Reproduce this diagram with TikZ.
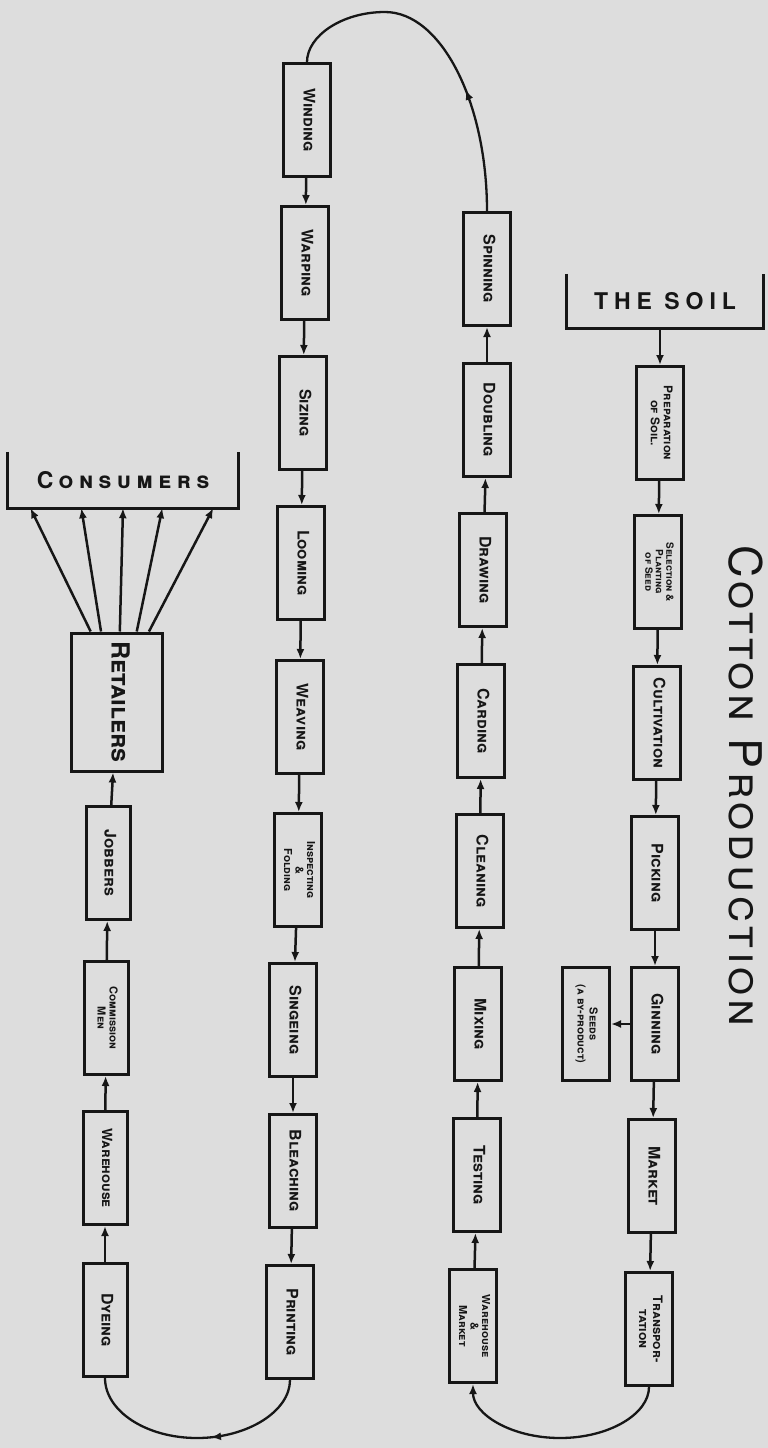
\documentclass[tikz,border=0pt]{standalone}
\usepackage{fontspec}
\usepackage{graphicx}
\setmainfont{TeX Gyre Heros}
\usetikzlibrary{calc,arrows.meta,positioning,decorations.markings}
\definecolor{paperGrey}{RGB}{221,221,221}
\definecolor{inkBlack}{RGB}{22,22,22}
\newcommand{\vlabel}[3]{\rotatebox{-90}{\fontsize{#1}{#2}\selectfont\begin{tabular}{@{}c@{}}#3\end{tabular}}}

\begin{document}
\begin{tikzpicture}[x=1pt,y=-1pt,
  stage/.style={draw=inkBlack,line width=3pt,fill=paperGrey,inner sep=0pt,minimum width=47pt,minimum height=113pt,font=\bfseries\scshape,text=inkBlack},
  flow/.style={draw=inkBlack,line width=2.5pt,-{Latex[length=10pt,width=8pt]}},
  loopline/.style={draw=inkBlack,line width=2.3pt},
  bracket/.style={inner sep=0pt,text=inkBlack,font=\bfseries},
  midarrow/.style={postaction={decorate},decoration={markings,mark=at position #1 with {\arrow{Latex[length=10pt,width=8pt]}}}}]
\fill[paperGrey] (0,0) rectangle (768,1448);
\useasboundingbox (0,0) rectangle (768,1448);

% title
\node[text=inkBlack] (title) at (746,786) {\rotatebox{-90}{\fontsize{45}{48}\selectfont\scshape\addfontfeatures{LetterSpace=9}Cotton Production}};

% growing the cotton
\node[bracket,minimum width=197pt,minimum height=54pt] (soil) at (665,301) {\fontsize{23}{25}\selectfont\addfontfeatures{LetterSpace=26}THE SOIL};
\draw[loopline,line width=3pt] (soil.north west) -- (soil.south west) -- (soil.south east) -- (soil.north east);
\node[stage] (prep) at (660,423) {\vlabel{12}{13}{Preparation\\of Soil.}};
\node[stage] (sel) at (658,572) {\vlabel{10}{10.5}{Selection \&\\Planting\\of Seed}};
\node[stage] (cult) at (657,723) {\vlabel{16}{17}{Cultivation}};
\node[stage] (pick) at (655,873) {\vlabel{16}{17}{Picking}};
\node[stage] (gin) at (655,1024) {\vlabel{16}{17}{Ginning}};
\node[stage] (mkt) at (652,1176) {\vlabel{16}{17}{Market}};
\node[stage] (trans) at (649,1329) {\vlabel{13}{14}{Transpor-\\tation}};
\node[stage] (seeds) at (586,1024) {\vlabel{11}{12}{Seeds\\(a by-product)}};

% spinning the yarn
\node[stage] (spin) at (487,269) {\vlabel{16}{17}{Spinning}};
\node[stage] (doub) at (487,420) {\vlabel{16}{17}{Doubling}};
\node[stage] (drw) at (483,570) {\vlabel{16}{17}{Drawing}};
\node[stage] (card) at (481,721) {\vlabel{16}{17}{Carding}};
\node[stage] (clean) at (480,871) {\vlabel{16}{17}{Cleaning}};
\node[stage] (mix) at (478,1024) {\vlabel{16}{17}{Mixing}};
\node[stage] (test) at (477,1175) {\vlabel{16}{17}{Testing}};
\node[stage] (wm) at (473,1326) {\vlabel{11}{11.5}{Warehouse\\\&\\Market}};

% making the cloth
\node[stage] (wind) at (307,120) {\vlabel{16}{17}{Winding}};
\node[stage] (warp) at (305,263) {\vlabel{16}{17}{Warping}};
\node[stage] (size) at (303,413) {\vlabel{16}{17}{Sizing}};
\node[stage] (loom) at (301,563) {\vlabel{16}{17}{Looming}};
\node[stage] (weave) at (300,717) {\vlabel{16}{17}{Weaving}};
\node[stage] (insp) at (298,870) {\vlabel{11}{11.5}{Inspecting\\\&\\Folding}};
\node[stage] (sing) at (293,1020) {\vlabel{16}{17}{Singeing}};
\node[stage] (bleach) at (293,1171) {\vlabel{16}{17}{Bleaching}};
\node[stage] (print) at (290,1322) {\vlabel{16}{17}{Printing}};

% selling
\node[stage,minimum width=44pt] (dye) at (105,1320) {\vlabel{16}{17}{Dyeing}};
\node[stage,minimum width=44pt] (ware) at (105,1168) {\vlabel{14}{15}{Warehouse}};
\node[stage,minimum width=44pt] (comm) at (106,1018) {\vlabel{11}{12}{Commission\\Men}};
\node[stage,minimum width=44pt] (job) at (108,863) {\vlabel{16}{17}{Jobbers}};
\node[stage,minimum width=91pt,minimum height=138pt] (ret) at (117,702) {\vlabel{25}{27}{Retailers}};
\node[bracket,minimum width=231pt,minimum height=56pt] (cons) at (123,480) {\fontsize{23}{25}\selectfont\scshape\addfontfeatures{LetterSpace=24}Consumers};
\draw[loopline,line width=3pt] (cons.north west) -- (cons.south west) -- (cons.south east) -- (cons.north east);

% arrows down the columns
\draw[flow] (prep |- soil.south) -- (prep);
\draw[flow] (prep) -- (sel);
\draw[flow] (sel) -- (cult);
\draw[flow] (cult) -- (pick);
\draw[flow] (pick) -- (gin);
\draw[flow] (gin) -- (mkt);
\draw[flow] (mkt) -- (trans);
\draw[flow] (gin) -- (seeds);
\draw[flow] (wm) -- (test);
\draw[flow] (test) -- (mix);
\draw[flow] (mix) -- (clean);
\draw[flow] (clean) -- (card);
\draw[flow] (card) -- (drw);
\draw[flow] (drw) -- (doub);
\draw[flow] (doub) -- (spin);
\draw[flow] (wind) -- (warp);
\draw[flow] (warp) -- (size);
\draw[flow] (size) -- (loom);
\draw[flow] (loom) -- (weave);
\draw[flow] (weave) -- (insp);
\draw[flow] (insp) -- (sing);
\draw[flow] (sing) -- (bleach);
\draw[flow] (bleach) -- (print);
\draw[flow] (dye) -- (ware);
\draw[flow] (ware) -- (comm);
\draw[flow] (comm) -- (job);
\draw[flow] (job) -- (ret);
\foreach \s/\t in {0.22/0.10,0.33/0.32,0.53/0.50,0.71/0.67,0.84/0.89}
  \draw[flow] ($(ret.north west)!\s!(ret.north east)$) -- ($(cons.south west)!\t!(cons.south east)$);

% the three bends
\coordinate (topbend) at (385,12);
\coordinate (lowright) at (560,1438);
\coordinate (lowleft) at (197,1438);
\draw[loopline,midarrow=0.36] (spin.north) .. controls (487,102) and (441,12) .. (topbend) .. controls (342,12) and (307,36) .. (wind.north);
\draw[loopline,-{Latex[length=10pt,width=8pt]}] (trans.south) .. controls (649,1414) and (609,1438) .. (lowright) .. controls (511,1438) and (473,1414) .. (wm.south);
\draw[loopline,midarrow=0.44] (print.south) .. controls (290,1411) and (248,1438) .. (lowleft) .. controls (146,1438) and (105,1411) .. (dye.south);
\end{tikzpicture}
\end{document}
